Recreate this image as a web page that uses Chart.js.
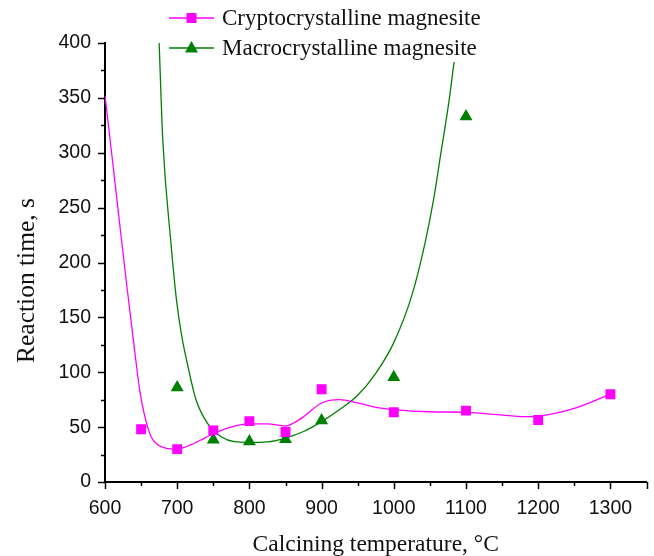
<!DOCTYPE html>
<html>
<head>
<meta charset="utf-8">
<script src="https://cdn.jsdelivr.net/npm/chart.js@4.4.1/dist/chart.umd.min.js"></script>
<style>
html,body{margin:0;padding:0;background:#fff;}
#wrap{width:654px;height:556px;}
</style>
</head>
<body>
<div id="wrap"><canvas id="c" width="654" height="556"></canvas></div>
<script>
// ---- data ----
const seriesNames = ['Cryptocrystalline magnesite', 'Macrocrystalline magnesite'];
const cryptoTemps = [650, 700, 750, 800, 850, 900, 1000, 1100, 1200, 1300];
const cryptoTimes = [48, 30, 47, 55.5, 45.5, 84.5, 63.5, 65, 56.5, 80];
const macroTemps = [700, 750, 800, 850, 900, 1000, 1100];
const macroTimes = [86, 38.5, 37, 39, 56, 95.5, 333];
// fitted curves
const cryptoFitTemps = [600, 610, 620, 630, 641, 648, 655, 664, 673, 685, 700, 719, 738, 752, 774, 800, 825, 850, 862, 875, 900, 925, 950, 975, 1000, 1050, 1100, 1150, 1180, 1200, 1250, 1300];
const cryptoFitTimes = [352, 295, 237, 180, 120, 84, 60, 41, 34, 30.7, 30, 34, 40, 44.5, 50, 53, 53, 51, 54, 59.5, 72, 75, 72, 68, 66, 64, 63.5, 61, 59.5, 60, 67, 80];
const macroFitTemps = [675, 680, 691, 699, 706, 715, 726, 742, 761, 779, 800, 825, 850, 875, 900, 925, 950, 975, 1000, 1025, 1043, 1055, 1066, 1076, 1084, 1088];
const macroFitTimes = [400, 312, 220, 166, 134, 105, 75, 53.5, 41.3, 36.7, 36, 36.5, 40, 46, 55, 66, 79, 99, 127, 170, 217, 257, 303, 345, 385, 403];
const xTicks = [600, 700, 800, 900, 1000, 1100, 1200, 1300];
const yTicks = [0, 50, 100, 150, 200, 250, 300, 350, 400];
const xTitle = 'Calcining temperature, \u00B0C';
const yTitle = 'Reaction time, s';

const MAGENTA = '#ff00ff';
const GREEN = '#008000';
const toXY = (xs, ys) => xs.map((x, i) => ({x: x, y: ys[i]}));

const tickFont = {family: '"Liberation Sans", Arial, sans-serif', size: 19.5};
const titleFont = {family: '"Liberation Serif", "Times New Roman", serif', size: 23.5};

// minor/major tick marks drawn through the scales
const tickPlugin = {
  id: 'ticksMarks',
  afterDraw(chart) {
    const ctx = chart.ctx;
    const xs = chart.scales.x, ys = chart.scales.y;
    const ca = chart.chartArea;
    ctx.save();
    ctx.strokeStyle = '#000';
    ctx.lineWidth = 1.5;
    for (let v = ys.min; v <= ys.max + 1e-9; v += 25) {
      const p = Math.round(ys.getPixelForValue(v)) + 0.5;
      const len = (v % 50 === 0) ? 7 : 4;
      ctx.beginPath(); ctx.moveTo(ca.left - len, p); ctx.lineTo(ca.left, p); ctx.stroke();
    }
    for (let v = xs.min; v <= xs.max + 1e-9; v += 50) {
      const p = Math.round(xs.getPixelForValue(v)) + 0.5;
      const len = (v % 100 === 0 || v === xs.max) ? 7 : 4;
      ctx.beginPath(); ctx.moveTo(p, ca.bottom); ctx.lineTo(p, ca.bottom + len); ctx.stroke();
    }
    // y axis title (sits a little below the axis centre in the reference)
    ctx.fillStyle = '#111';
    ctx.font = '25.5px "Liberation Serif", "Times New Roman", serif';
    ctx.textAlign = 'center';
    ctx.textBaseline = 'middle';
    ctx.translate(27, (ca.top + ca.bottom) / 2 + 18);
    ctx.rotate(-Math.PI / 2);
    ctx.fillText(yTitle, 0, 0);
    ctx.restore();
  }
};

// legend drawn over the plot with a white background
const legendPlugin = {
  id: 'overLegend',
  afterDraw(chart) {
    const ctx = chart.ctx;
    ctx.save();
    ctx.fillStyle = '#fff';
    ctx.fillRect(165, 0, 322, 62);
    const rows = [
      {y: 18, color: MAGENTA, shape: 'rect', text: seriesNames[0]},
      {y: 48, color: GREEN, shape: 'tri', text: seriesNames[1]}
    ];
    rows.forEach(r => {
      ctx.strokeStyle = r.color;
      ctx.lineWidth = 1.3;
      ctx.beginPath(); ctx.moveTo(169, r.y); ctx.lineTo(214, r.y); ctx.stroke();
      ctx.fillStyle = r.color;
      const cx = 191.5;
      if (r.shape === 'rect') {
        ctx.fillRect(cx - 5, r.y - 5, 10, 10);
      } else {
        ctx.beginPath();
        ctx.moveTo(cx, r.y - 7);
        ctx.lineTo(cx + 6.5, r.y + 4.5);
        ctx.lineTo(cx - 6.5, r.y + 4.5);
        ctx.closePath(); ctx.fill();
      }
      ctx.fillStyle = '#111';
      ctx.font = '23px "Liberation Serif", "Times New Roman", serif';
      ctx.textBaseline = 'middle';
      ctx.textAlign = 'left';
      ctx.fillText(r.text, 222, r.y + 1);
    });
    ctx.restore();
  }
};

new Chart(document.getElementById('c'), {
  type: 'scatter',
  data: {
    datasets: [
      {
        label: seriesNames[0] + ' fit',
        type: 'line',
        data: toXY(cryptoFitTemps, cryptoFitTimes),
        borderColor: MAGENTA,
        borderWidth: 1.3,
        pointRadius: 0,
        fill: false,
        cubicInterpolationMode: 'monotone',
        order: 3
      },
      {
        label: seriesNames[1] + ' fit',
        type: 'line',
        data: toXY(macroFitTemps, macroFitTimes),
        borderColor: GREEN,
        borderWidth: 1.3,
        pointRadius: 0,
        fill: false,
        cubicInterpolationMode: 'monotone',
        order: 4
      },
      {
        label: seriesNames[0],
        data: toXY(cryptoTemps, cryptoTimes),
        backgroundColor: MAGENTA,
        borderColor: MAGENTA,
        borderWidth: 0,
        pointStyle: 'rect',
        pointRadius: 7,
        order: 1
      },
      {
        label: seriesNames[1],
        data: toXY(macroTemps, macroTimes),
        backgroundColor: GREEN,
        borderColor: GREEN,
        borderWidth: 0,
        pointStyle: 'triangle',
        pointRadius: 7.5,
        order: 2
      }
    ]
  },
  options: {
    responsive: false,
    animation: false,
    devicePixelRatio: 1,
    layout: {padding: {top: 43, right: 4, left: 0, bottom: 0}},
    plugins: {legend: {display: false}, tooltip: {enabled: false}},
    scales: {
      x: {
        type: 'linear',
        min: 600, max: 1350,
        afterFit(s) { s.height = 74; },
        afterBuildTicks(s) { s.ticks = xTicks.map(v => ({value: v})); },
        ticks: {font: tickFont, color: '#111', padding: 15, maxRotation: 0, callback: v => String(v)},
        grid: {drawOnChartArea: false, drawTicks: false},
        border: {display: true, color: '#000', width: 2},
        title: {display: true, text: xTitle, font: titleFont, color: '#111', padding: {top: 0, bottom: -2.5}}
      },
      y: {
        type: 'linear',
        min: 0, max: 400,
        afterFit(s) { s.width = 105; },
        afterBuildTicks(s) { s.ticks = yTicks.map(v => ({value: v})); },
        ticks: {font: tickFont, color: '#111', padding: 14, callback: v => String(v)},
        grid: {drawOnChartArea: false, drawTicks: false},
        border: {display: true, color: '#000', width: 2},
        title: {display: false, text: yTitle}
      }
    }
  },
  plugins: [tickPlugin, legendPlugin]
});
</script>
</body>
</html>
